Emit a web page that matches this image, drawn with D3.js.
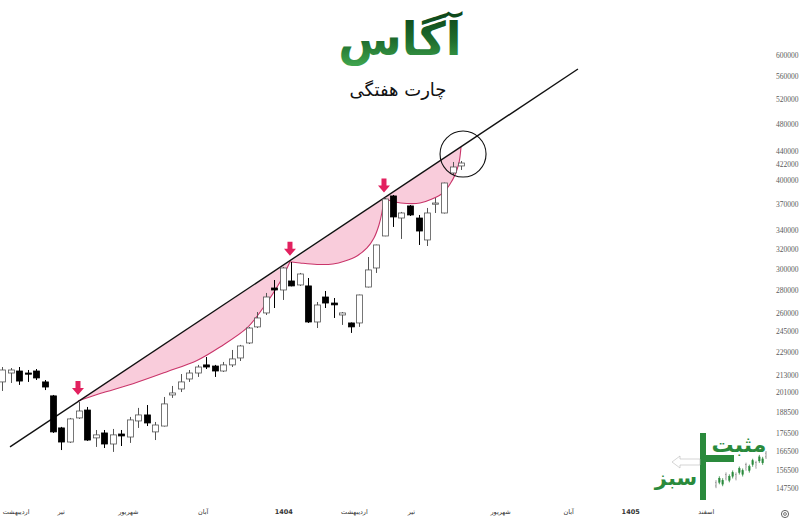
<!DOCTYPE html>
<html><head><meta charset="utf-8">
<script src="https://cdn.jsdelivr.net/npm/d3@7"></script>
<style>html,body{margin:0;padding:0;background:#fff;}svg{display:block;}</style>
</head><body>
<svg id="chart" width="800" height="528"></svg>
<script>
// ---------- data ----------
const open  = [208000,214100,215500,214100,215500,208000,198800,179200,171200,185100,189900,173500,176300,170100,175700,174000,183300,186900,176900,180300,199400,203300,210000,214100,219800,219000,215500,219800,224800,236000,248600,260100,282000,280200,288500,284800,283900,252600,273900,268600,258400,251800,251800,282900,300900,333800,380000,353800,367900,353800,329500,370200,359600,409400,418800];
const high  = [218300,217600,218300,216200,216900,209300,199400,179800,185100,194900,191800,178000,178000,178600,178000,185700,191200,193000,182700,198100,205300,213400,216200,219800,225500,219800,221900,230700,234500,248600,260900,277500,289400,301900,306800,296100,291300,269500,279300,273000,260900,252200,276000,311800,324500,378700,381200,360800,369000,357300,365500,377500,396800,424200,425600];
const low   = [202000,207300,206000,208000,209300,202600,176300,166800,170700,184500,171800,168500,167900,165800,169000,170700,179200,180300,172300,180000,197500,201300,208000,211400,216900,211400,214800,218300,222600,235200,247700,258400,264300,271300,283500,283900,251800,247700,264300,255900,250200,243800,248600,282500,296100,333500,343700,330600,356100,324200,323100,359600,359000,406700,413400];
const close = [216200,216200,208600,213800,210700,204600,176900,171200,184500,189300,172300,175200,170100,175200,174600,183900,186900,182100,180900,193700,200700,208000,214100,218300,218300,215500,219800,224100,233700,247700,255900,273900,280200,300900,283900,295100,252600,266900,268600,267000,260100,248600,275700,299000,324200,376300,355000,359600,357300,339200,359600,371400,396300,417400,422800];

const yTickValues = [600000,560000,520000,480000,440000,422000,400000,370000,340000,320000,300000,280000,260000,245000,229000,213000,201000,188500,176500,166500,156500,147500];

const monthLabels = ["اردیبهشت","تیر","شهریور","آبان","1404","اردیبهشت","تیر","شهریور","آبان","1405","اسفند"];
const monthPos    = [1.6, 6.9, 14.8, 23.6, 33.1, 41.4, 48.1, 58.6, 66.6, 73.9, 82.8];

const trendIdx   = [0.94, 67.76];
const trendPrice = [168500, 573400];

const curve1Idx   = [8.94,11.53,15.41,19.41,22.94,25.65,28.82,30.71,32.71,33.88];
const curve1Price = [195500,200300,206800,215000,223000,232950,247740,264330,287550,307000];
const curve2Idx   = [33.88,35.06,37.06,38.94,40.35,41.76,42.94,43.76,44.35,44.71,44.94];
const curve2Price = [307000,305810,304330,304820,307800,312840,321050,331620,345890,360760,377000];
const curve3Idx   = [44.94,46.24,47.65,49.18,50.59,51.88,52.71,53.29,53.76,54.0];
const curve3Price = [377000,372640,370840,371440,376300,383670,395030,406720,422840,445300];

const touchIdx   = [8.94, 33.88, 44.94];
const touchPrice = [195500, 307000, 377000];

const circleIdx = 54.24, circlePrice = 435300;

const logoBars = [3,5,4,7,6,8,7,10,9,12,11,14,13,16,15,18];

// ---------- scales ----------
const svg = d3.select("#chart");
const x = d3.scaleLinear().domain([0, 54]).range([2, 461]);
const y = d3.scaleLog().domain([147500, 600000]).range([488, 55]);

// ---------- title ----------
const defs = svg.append("defs");
const grad = defs.append("linearGradient").attr("id","tg").attr("x1",0).attr("y1",0).attr("x2",0).attr("y2",1);
grad.append("stop").attr("offset","0%").attr("stop-color","#0c4319");
grad.append("stop").attr("offset","55%").attr("stop-color","#1f6e2e");
grad.append("stop").attr("offset","100%").attr("stop-color","#3fa54e");
svg.append("text").attr("x",400).attr("y",55).attr("text-anchor","middle")
  .attr("font-family","DejaVu Sans").attr("font-weight","bold").attr("font-size",46)
  .attr("fill","url(#tg)").text("آگاس");
svg.append("text").attr("x",398).attr("y",96).attr("text-anchor","middle")
  .attr("font-family","DejaVu Sans").attr("font-size",18).attr("fill","#111").text("چارت هفتگی");

// ---------- pink areas ----------
const lineGen = d3.line().x(d=>x(d[0])).y(d=>y(d[1])).curve(d3.curveCatmullRom.alpha(0.5));
[[curve1Idx,curve1Price],[curve2Idx,curve2Price],[curve3Idx,curve3Price]].forEach(([ci,cp])=>{
  const pts = ci.map((v,i)=>[v,cp[i]]);
  svg.append("path").attr("d", lineGen(pts)+"Z").attr("fill","#f9ccdb").attr("stroke","none");
  svg.append("path").attr("d", lineGen(pts)).attr("fill","none").attr("stroke","#c9356a").attr("stroke-width",1.1);
});

// ---------- trend line ----------
svg.append("line")
  .attr("x1",x(trendIdx[0])).attr("y1",y(trendPrice[0]))
  .attr("x2",x(trendIdx[1])).attr("y2",y(trendPrice[1]))
  .attr("stroke","#111").attr("stroke-width",1.4);

// ---------- candles ----------
const g = svg.append("g");
const bw = 6;
open.forEach((o,i)=>{
  const c = close[i], up = c >= o;
  const cx = Math.round(x(i)) + 0.5;
  g.append("line").attr("x1",cx).attr("x2",cx).attr("y1",y(high[i])).attr("y2",y(low[i]))
    .attr("stroke", up ? "#555" : "#000").attr("stroke-width",1);
  const top = y(Math.max(o,c)), bot = y(Math.min(o,c));
  g.append("rect").attr("x",cx-bw/2).attr("y",top).attr("width",bw).attr("height",Math.max(bot-top,1.2))
    .attr("fill", up ? "#fff" : "#000").attr("stroke", up ? "#555" : "#000").attr("stroke-width",0.8);
});

// ---------- arrows ----------
touchIdx.forEach((ti,i)=>{
  const ax = x(ti), ay = y(touchPrice[i]) - 6;
  svg.append("path")
    .attr("d", `M${ax},${ay} L${ax-6},${ay-7} L${ax-2.5},${ay-7} L${ax-2.5},${ay-14} L${ax+2.5},${ay-14} L${ax+2.5},${ay-7} L${ax+6},${ay-7} Z`)
    .attr("fill","#e2215f");
});

// ---------- circle ----------
svg.append("circle").attr("cx",x(circleIdx)).attr("cy",y(circlePrice)).attr("r",23)
  .attr("fill","none").attr("stroke","#111").attr("stroke-width",1.1);

// ---------- right axis ----------
const yAxis = d3.axisRight(y).tickValues(yTickValues).tickSize(0).tickPadding(0).tickFormat(d3.format("d"));
const ya = svg.append("g").attr("transform","translate(776,0)").call(yAxis);
ya.select(".domain").remove();
ya.selectAll("text").attr("font-family","Liberation Serif").attr("font-size",7.5).attr("fill","#5a5a5a");

// ---------- bottom axis ----------
const xAxis = d3.axisBottom(x).tickValues(monthPos).tickSize(0).tickPadding(0).tickFormat((d,i)=>monthLabels[i]);
const xa = svg.append("g").attr("transform","translate(0,509)").call(xAxis);
xa.select(".domain").remove();
xa.selectAll("text").attr("font-family","DejaVu Sans").attr("font-size",6.5).attr("fill","#333")
  .attr("font-weight",(d,i)=>/^\d+$/.test(monthLabels[i]) ? "bold" : "normal");

// gear icon
svg.append("circle").attr("cx",785).attr("cy",514).attr("r",3.6).attr("fill","none").attr("stroke","#555").attr("stroke-width",0.9);
svg.append("circle").attr("cx",785).attr("cy",514).attr("r",1.4).attr("fill","none").attr("stroke","#555").attr("stroke-width",0.8);

// ---------- logo ----------
const lg = svg.append("g");
lg.append("rect").attr("x",700).attr("y",433).attr("width",6).attr("height",67).attr("fill","#2a8a3c");
lg.append("rect").attr("x",706).attr("y",455).attr("width",28).attr("height",7).attr("fill","#2a8a3c");
lg.append("path").attr("d","M672,462 L680,456 L680,459 L700,459 L700,465 L680,465 L680,468 Z")
  .attr("fill","#fff").attr("stroke","#bbb").attr("stroke-width",0.6);
lg.append("text").attr("x",739).attr("y",452).attr("text-anchor","middle").attr("font-family","DejaVu Sans")
  .attr("font-weight","bold").attr("font-size",22).attr("fill","#2a8a3c").text("مثبت");
lg.append("text").attr("x",676).attr("y",485).attr("text-anchor","middle").attr("font-family","DejaVu Sans")
  .attr("font-weight","bold").attr("font-size",21).attr("fill","#2a8a3c").text("سبز");
const lx = d3.scaleLinear().domain([0, logoBars.length-1]).range([716, 766]);
const ly = d3.scaleLinear().domain([0, 18]).range([490, 455]);
logoBars.forEach((v,i)=>{
  lg.append("line").attr("x1",lx(i)).attr("x2",lx(i)).attr("y1",ly(v)-4).attr("y2",ly(v)+4)
    .attr("stroke", i%3===0 ? "#888" : "#2a8a3c").attr("stroke-width",0.8);
  lg.append("rect").attr("x",lx(i)-0.8).attr("y",ly(v)-2).attr("width",1.6).attr("height",4)
    .attr("fill", i%3===0 ? "#fff" : "#2a8a3c").attr("stroke", i%3===0 ? "#888" : "#2a8a3c").attr("stroke-width",0.4);
});
</script>
</body></html>
